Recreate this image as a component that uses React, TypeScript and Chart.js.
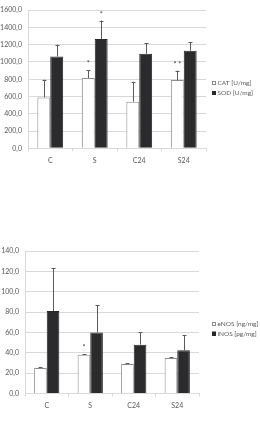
import { useEffect, useRef } from 'react';
import { Chart, registerables } from 'chart.js';

Chart.register(...registerables);

// Groups on the x axis
const groups = ['C', 'S', 'C24', 'S24'];

// Upper panel: enzyme activities [U/mg]
const catValues = [590, 815, 540, 790];
const catErrors = [205, 90, 230, 110];
const catMarks = ['', '*', '', '* *'];
const sodValues = [1065, 1265, 1095, 1130];
const sodErrors = [135, 215, 120, 100];
const sodMarks = ['', '*', '', ''];
const upperTicks = { min: 0, max: 1600, step: 200 };

// Lower panel: NOS isoforms
const enosValues = [25, 38, 29, 35];
const enosErrors = [0.7, 0.8, 0.8, 0.8];
const enosMarks = ['', '*', '', ''];
const inosValues = [81, 60, 48, 42.5];
const inosErrors = [42, 27, 12, 14.5];
const inosMarks = ['', '', '', ''];
const lowerTicks = { min: 0, max: 140, step: 20 };

const FONT = 'Lato, "Open Sans", sans-serif';
const TEXT = '#595959';
const GRID = '#d9d9d9';
const LIGHT_FILL = '#ffffff';
const LIGHT_EDGE = '#8c8c8c';
const DARK_FILL = '#2b2b2e';
const DARK_EDGE = '#262626';

const commaNumber = (v: number) => v.toFixed(1).replace('.', ',');

// Draws upward error bars and significance marks above them
const errorBarPlugin = {
  id: 'errorBars',
  afterDatasetsDraw(chart: any) {
    const { ctx } = chart;
    const yScale = chart.scales.y;
    ctx.save();
    chart.data.datasets.forEach((ds: any, di: number) => {
      const meta = chart.getDatasetMeta(di);
      meta.data.forEach((bar: any, i: number) => {
        const v = ds.data[i];
        const err = ds.errors ? ds.errors[i] : 0;
        const yTop = yScale.getPixelForValue(v + err);
        const yBar = yScale.getPixelForValue(v);
        const x = Math.round(bar.x) + 0.5;
        ctx.strokeStyle = '#5a5a5a';
        ctx.lineWidth = 1;
        ctx.beginPath();
        ctx.moveTo(x, yBar);
        ctx.lineTo(x, yTop);
        ctx.moveTo(x - 2, Math.round(yTop) + 0.5);
        ctx.lineTo(x + 2, Math.round(yTop) + 0.5);
        ctx.stroke();
        const mark = ds.marks ? ds.marks[i] : '';
        if (mark) {
          ctx.fillStyle = '#404040';
          ctx.font = `7px ${FONT}`;
          ctx.textAlign = 'center';
          ctx.textBaseline = 'middle';
          ctx.fillText(mark, bar.x, yTop - 6);
        }
      });
    });
    ctx.restore();
  },
};

// Small square-swatch legend placed at the right of the plot
const sideLegendPlugin = {
  id: 'sideLegend',
  afterDraw(chart: any, _args: any, opts: any) {
    const { ctx } = chart;
    ctx.save();
    ctx.font = `6.5px ${FONT}`;
    ctx.textBaseline = 'middle';
    ctx.textAlign = 'left';
    chart.data.datasets.forEach((ds: any, i: number) => {
      const y = opts.y + i * opts.gap;
      ctx.fillStyle = ds.backgroundColor;
      ctx.fillRect(opts.x, y - 2, 4, 4);
      ctx.strokeStyle = ds.borderColor;
      ctx.lineWidth = 1;
      ctx.strokeRect(opts.x + 0.5, Math.round(y - 2) + 0.5, 3, 3);
      ctx.fillStyle = TEXT;
      ctx.fillText(ds.label, opts.x + 5.5, y);
    });
    ctx.restore();
  },
};

function makeConfig(
  series: any[],
  ticks: { min: number; max: number; step: number },
  layout: { top: number; bottom: number; right: number; axisWidth: number },
  legendPos: { x: number; y: number; gap: number }
): any {
  return {
    type: 'bar',
    data: {
      labels: groups,
      datasets: series.map((s) => ({
        label: s.label,
        data: s.values,
        errors: s.errors,
        marks: s.marks,
        backgroundColor: s.fill,
        borderColor: s.edge,
        borderWidth: 1,
        categoryPercentage: 0.58,
        barPercentage: 1.0,
      })),
    },
    options: {
      responsive: false,
      animation: false,
      devicePixelRatio: 1,
      layout: {
        padding: { top: layout.top, bottom: layout.bottom, left: 0, right: layout.right },
      },
      plugins: {
        legend: { display: false },
        tooltip: { enabled: false },
        sideLegend: legendPos,
      },
      scales: {
        x: {
          grid: {
            offset: true,
            drawOnChartArea: false,
            drawTicks: true,
            tickLength: 3,
            color: GRID,
          },
          border: { color: GRID },
          ticks: { color: TEXT, font: { family: FONT, size: 7 }, padding: 5 },
          afterFit: (scale: any) => {
            scale.height = 20;
          },
        },
        y: {
          min: ticks.min,
          max: ticks.max,
          grid: { color: GRID, drawTicks: false },
          border: { color: GRID },
          ticks: {
            stepSize: ticks.step,
            color: TEXT,
            font: { family: FONT, size: 7 },
            padding: 6,
            callback: (v: any) => commaNumber(Number(v)),
          },
          afterFit: (scale: any) => {
            scale.width = layout.axisWidth;
          },
        },
      },
    },
    plugins: [errorBarPlugin, sideLegendPlugin],
  };
}

function BarPanel(props: {
  top: number;
  height: number;
  config: any;
}) {
  const ref = useRef<HTMLCanvasElement | null>(null);
  useEffect(() => {
    if (!ref.current) return;
    const chart = new Chart(ref.current, props.config);
    return () => chart.destroy();
  }, [props.config]);
  return (
    <canvas
      ref={ref}
      width={260}
      height={props.height}
      style={{ position: 'absolute', left: 0, top: props.top, width: 260, height: props.height }}
    />
  );
}

const upperConfig = makeConfig(
  [
    { label: 'CAT [U/mg]', values: catValues, errors: catErrors, marks: catMarks, fill: LIGHT_FILL, edge: LIGHT_EDGE },
    { label: 'SOD [U/mg]', values: sodValues, errors: sodErrors, marks: sodMarks, fill: DARK_FILL, edge: DARK_EDGE },
  ],
  upperTicks,
  { top: 6.7, bottom: 200 - 148.3 - 20, right: 54, axisWidth: 28 },
  { x: 212, y: 83, gap: 10 }
);

const lowerConfig = makeConfig(
  [
    { label: 'eNOS [ng/mg]', values: enosValues, errors: enosErrors, marks: enosMarks, fill: LIGHT_FILL, edge: LIGHT_EDGE },
    { label: 'iNOS [pg/mg]', values: inosValues, errors: inosErrors, marks: inosMarks, fill: DARK_FILL, edge: DARK_EDGE },
  ],
  lowerTicks,
  { top: 19, bottom: 192 - 161.5 - 20, right: 61, axisWidth: 25 },
  { x: 212, y: 92, gap: 9.5 }
);

export default function App() {
  return (
    <div style={{ position: 'absolute', left: 0, top: 0, width: 260, height: 424, background: '#fff' }}>
      <BarPanel top={0} height={200} config={upperConfig} />
      <BarPanel top={232} height={192} config={lowerConfig} />
    </div>
  );
}
